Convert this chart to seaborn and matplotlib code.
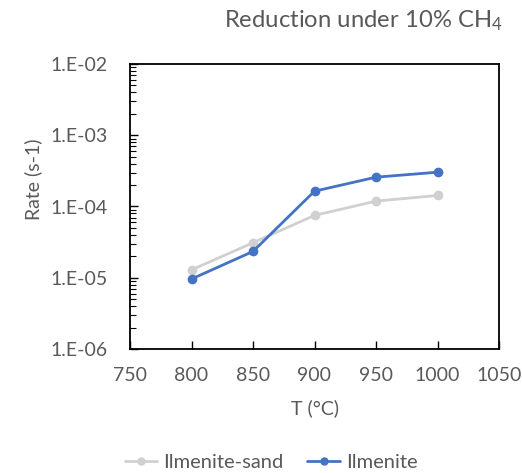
import matplotlib
matplotlib.use("Agg")
import matplotlib.pyplot as plt
import seaborn as sns
import pandas as pd
from matplotlib.ticker import LogLocator, FixedLocator, NullFormatter

temperatures = [800, 850, 900, 950, 1000]
ilmenite_sand = [1.29e-5, 3.1e-5, 7.5e-5, 1.19e-4, 1.43e-4]
ilmenite = [9.6e-6, 2.34e-5, 1.64e-4, 2.58e-4, 3.03e-4]
series_names = ["Ilmenite-sand", "Ilmenite"]
x_ticks = [750, 800, 850, 900, 950, 1000, 1050]
y_ticks = [1e-6, 1e-5, 1e-4, 1e-3, 1e-2]
y_tick_labels = ["1.E-06", "1.E-05", "1.E-04", "1.E-03", "1.E-02"]

df = pd.DataFrame({
    "T": temperatures * 2,
    "Rate": ilmenite_sand + ilmenite,
    "Series": [series_names[0]] * len(temperatures) + [series_names[1]] * len(temperatures),
})

sns.set_theme(style="white")
plt.rcParams["font.family"] = ["Lato", "DejaVu Sans"]
plt.rcParams["mathtext.fontset"] = "custom"
plt.rcParams["mathtext.rm"] = "Lato"

text_color = "#595959"
fs = 14
palette = {"Ilmenite-sand": "#D0D0D0", "Ilmenite": "#4472C4"}

fig = plt.figure(figsize=(5.22, 4.73), dpi=100)
ax = fig.add_axes([130 / 522, 1 - 349 / 473, (499 - 130) / 522, (349 - 64) / 473])

sns.lineplot(data=df, x="T", y="Rate", hue="Series", palette=palette,
             hue_order=series_names, marker="o", markersize=7, markeredgewidth=0,
             linewidth=2, ax=ax, legend=True)

ax.set_yscale("log")
ax.set_xlim(750, 1050)
ax.set_ylim(1e-6, 1e-2)
ax.xaxis.set_major_locator(FixedLocator(x_ticks))
ax.set_xticklabels([str(t) for t in x_ticks])
ax.yaxis.set_major_locator(FixedLocator(y_ticks))
ax.set_yticklabels(y_tick_labels)
ax.yaxis.set_minor_locator(LogLocator(base=10, subs=range(2, 10), numticks=20))
ax.yaxis.set_minor_formatter(NullFormatter())

for sp in ax.spines.values():
    sp.set_visible(True)
    sp.set_color("black")
    sp.set_linewidth(1.3)

ax.tick_params(axis="both", which="both", direction="in", colors="black",
               labelcolor=text_color, labelsize=fs)
ax.tick_params(axis="y", which="major", length=6, width=1, pad=16, left=True)
ax.tick_params(axis="y", which="minor", length=4, width=0.8, left=True)
ax.tick_params(axis="x", which="major", length=6, width=1, pad=13, bottom=True)

ax.set_xlabel("")
ax.set_ylabel("")
fig.text(315 / 522, 1 - 408 / 473, "T (°C)", ha="center", va="center",
         color=text_color, fontsize=fs)
fig.text(33 / 522, 1 - 179 / 473, "Rate (s-1)", ha="center", va="center",
         rotation=90, color=text_color, fontsize=fs)
fig.text(503 / 522, 1 - 21 / 473, r"Reduction under 10% CH$\mathregular{_4}$",
         ha="right", va="center", color=text_color, fontsize=17.2)

handles, labels = ax.get_legend_handles_labels()
ax.get_legend().remove()
leg = fig.legend(handles, labels, loc="center", ncol=2,
                 bbox_to_anchor=(271 / 522, 1 - 462 / 473), frameon=False,
                 fontsize=14.5, handlelength=1.6, handletextpad=0.3,
                 columnspacing=1.2, labelcolor=text_color)
for h in leg.legend_handles:
    h.set_markersize(6)

fig.savefig("out.png", dpi=100)
